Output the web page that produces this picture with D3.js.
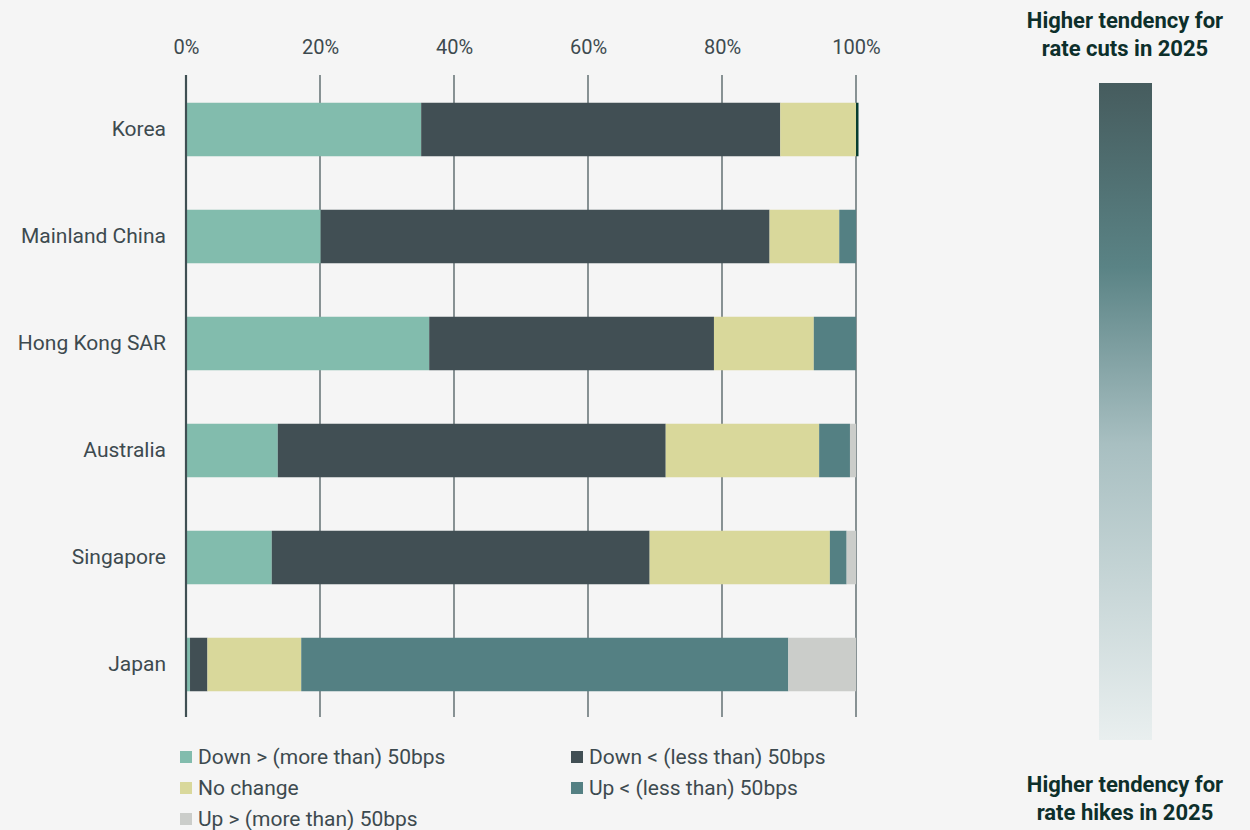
<!DOCTYPE html>
<html>
<head>
<meta charset="utf-8">
<script src="https://cdn.jsdelivr.net/npm/d3@7"></script>
<style>
  html, body { margin: 0; padding: 0; background: #f5f5f5; }
  svg { display: block; }
  text { font-family: Roboto, "Liberation Sans", sans-serif; }
</style>
</head>
<body>
<svg id="chart" width="1250" height="830"></svg>
<script>
// Markets (top to bottom)
const markets = ["Korea", "Mainland China", "Hong Kong SAR", "Australia", "Singapore", "Japan"];

// Share of respondents (%) by expected rate move, per market
const downMore  = [35.1, 20.1, 36.3, 13.7, 12.8, 0.6];
const downLess  = [53.6, 67.0, 42.5, 57.9, 56.4, 2.6];
const noChange  = [11.3, 10.4, 14.9, 22.9, 26.9, 14.0];
const upLess    = [0.0,  2.5,  6.3,  4.6,  2.5,  72.7];
const upMore    = [0.0,  0.0,  0.0,  0.9,  1.4,  10.1];

const seriesNames = [
  "Down > (more than) 50bps",
  "Down < (less than) 50bps",
  "No change",
  "Up < (less than) 50bps",
  "Up > (more than) 50bps"
];
const seriesColors = ["#82bcad", "#414f54", "#d9d89b", "#548083", "#cbcdca"];
const tickValues = [0, 20, 40, 60, 80, 100];

const seriesValues = [downMore, downLess, noChange, upLess, upMore];
const rows = markets.map((m, i) => {
  const r = { market: m };
  seriesNames.forEach((s, k) => r[s] = seriesValues[k][i]);
  return r;
});

const svg = d3.select("#chart");
const x = d3.scaleLinear().domain([0, 100]).range([186, 856]);
const y = d3.scaleBand().domain(markets).range([76, 718]).paddingInner(0.5).paddingOuter(0.25);

// Vertical gridlines
svg.append("g").selectAll("line")
  .data(tickValues.filter(d => d > 0))
  .join("line")
  .attr("x1", d => x(d)).attr("x2", d => x(d))
  .attr("y1", 75).attr("y2", 717)
  .attr("stroke", "#3f4f53").attr("stroke-width", 1.2);

// Top axis labels
const xAxis = d3.axisTop(x).tickValues(tickValues).tickFormat(d => d + "%").tickSize(0);
svg.append("g")
  .attr("transform", "translate(0,57)")
  .call(xAxis)
  .call(g => g.select(".domain").remove())
  .call(g => g.selectAll("text")
    .attr("font-size", 20).attr("fill", "#3d4a4f")
    .attr("font-family", "Roboto, sans-serif").attr("dy", 0));

// Stacked bars
const stack = d3.stack().keys(seriesNames)(rows);
const color = d3.scaleOrdinal().domain(seriesNames).range(seriesColors);

svg.append("g").selectAll("g")
  .data(stack)
  .join("g")
  .attr("fill", d => color(d.key))
  .selectAll("rect")
  .data(d => d.filter(p => p[1] - p[0] > 0))
  .join("rect")
  .attr("x", d => x(d[0]))
  .attr("width", d => x(d[1]) - x(d[0]))
  .attr("y", d => y(d.data.market))
  .attr("height", y.bandwidth());

// Accent edge at the end of the Korea bar
svg.append("rect")
  .attr("x", x(100))
  .attr("width", 2.5)
  .attr("y", y("Korea"))
  .attr("height", y.bandwidth())
  .attr("fill", "#073d30");

// Zero baseline
svg.append("line")
  .attr("x1", x(0)).attr("x2", x(0))
  .attr("y1", 75).attr("y2", 717)
  .attr("stroke", "#3f4f53").attr("stroke-width", 2.2);

// Category labels
const yAxis = d3.axisLeft(y).tickSize(0).tickPadding(0);
svg.append("g")
  .attr("transform", "translate(166,0)")
  .call(yAxis)
  .call(g => g.select(".domain").remove())
  .call(g => g.selectAll("text")
    .attr("font-size", 21).attr("fill", "#3d4a4f")
    .attr("font-family", "Roboto, sans-serif"));

// Legend
const legendPos = [[180, 757], [571, 757], [180, 788], [571, 788], [180, 819]];
const legend = svg.append("g").selectAll("g")
  .data(seriesNames)
  .join("g")
  .attr("transform", (d, i) => `translate(${legendPos[i][0]},${legendPos[i][1]})`);
legend.append("rect")
  .attr("x", 0).attr("y", -6).attr("width", 12).attr("height", 12)
  .attr("fill", d => color(d));
legend.append("text")
  .attr("x", 18).attr("dy", "0.35em")
  .attr("font-size", 21).attr("fill", "#3d4a4f")
  .text(d => d);

// Tendency gradient scale
const defs = svg.append("defs");
const grad = defs.append("linearGradient")
  .attr("id", "tendency").attr("x1", 0).attr("x2", 0).attr("y1", 0).attr("y2", 1);
[[0, "#465c5e"], [0.28, "#5a8385"], [0.55, "#a8bfc1"], [1, "#e9efef"]].forEach(([o, c]) =>
  grad.append("stop").attr("offset", o).attr("stop-color", c));
svg.append("rect")
  .attr("x", 1099).attr("y", 83).attr("width", 53).attr("height", 657)
  .attr("fill", "url(#tendency)");

const captions = [
  { lines: ["Higher tendency for", "rate cuts in 2025"], y: 20 },
  { lines: ["Higher tendency for", "rate hikes in 2025"], y: 784 }
];
captions.forEach(c => {
  const t = svg.append("text")
    .attr("x", 1125).attr("text-anchor", "middle")
    .attr("font-size", 22).attr("font-weight", 700).attr("fill", "#0d2f2b");
  c.lines.forEach((l, i) => t.append("tspan")
    .attr("x", 1125).attr("y", c.y + i * 28).attr("dy", "0.35em").text(l));
});
</script>
</body>
</html>
